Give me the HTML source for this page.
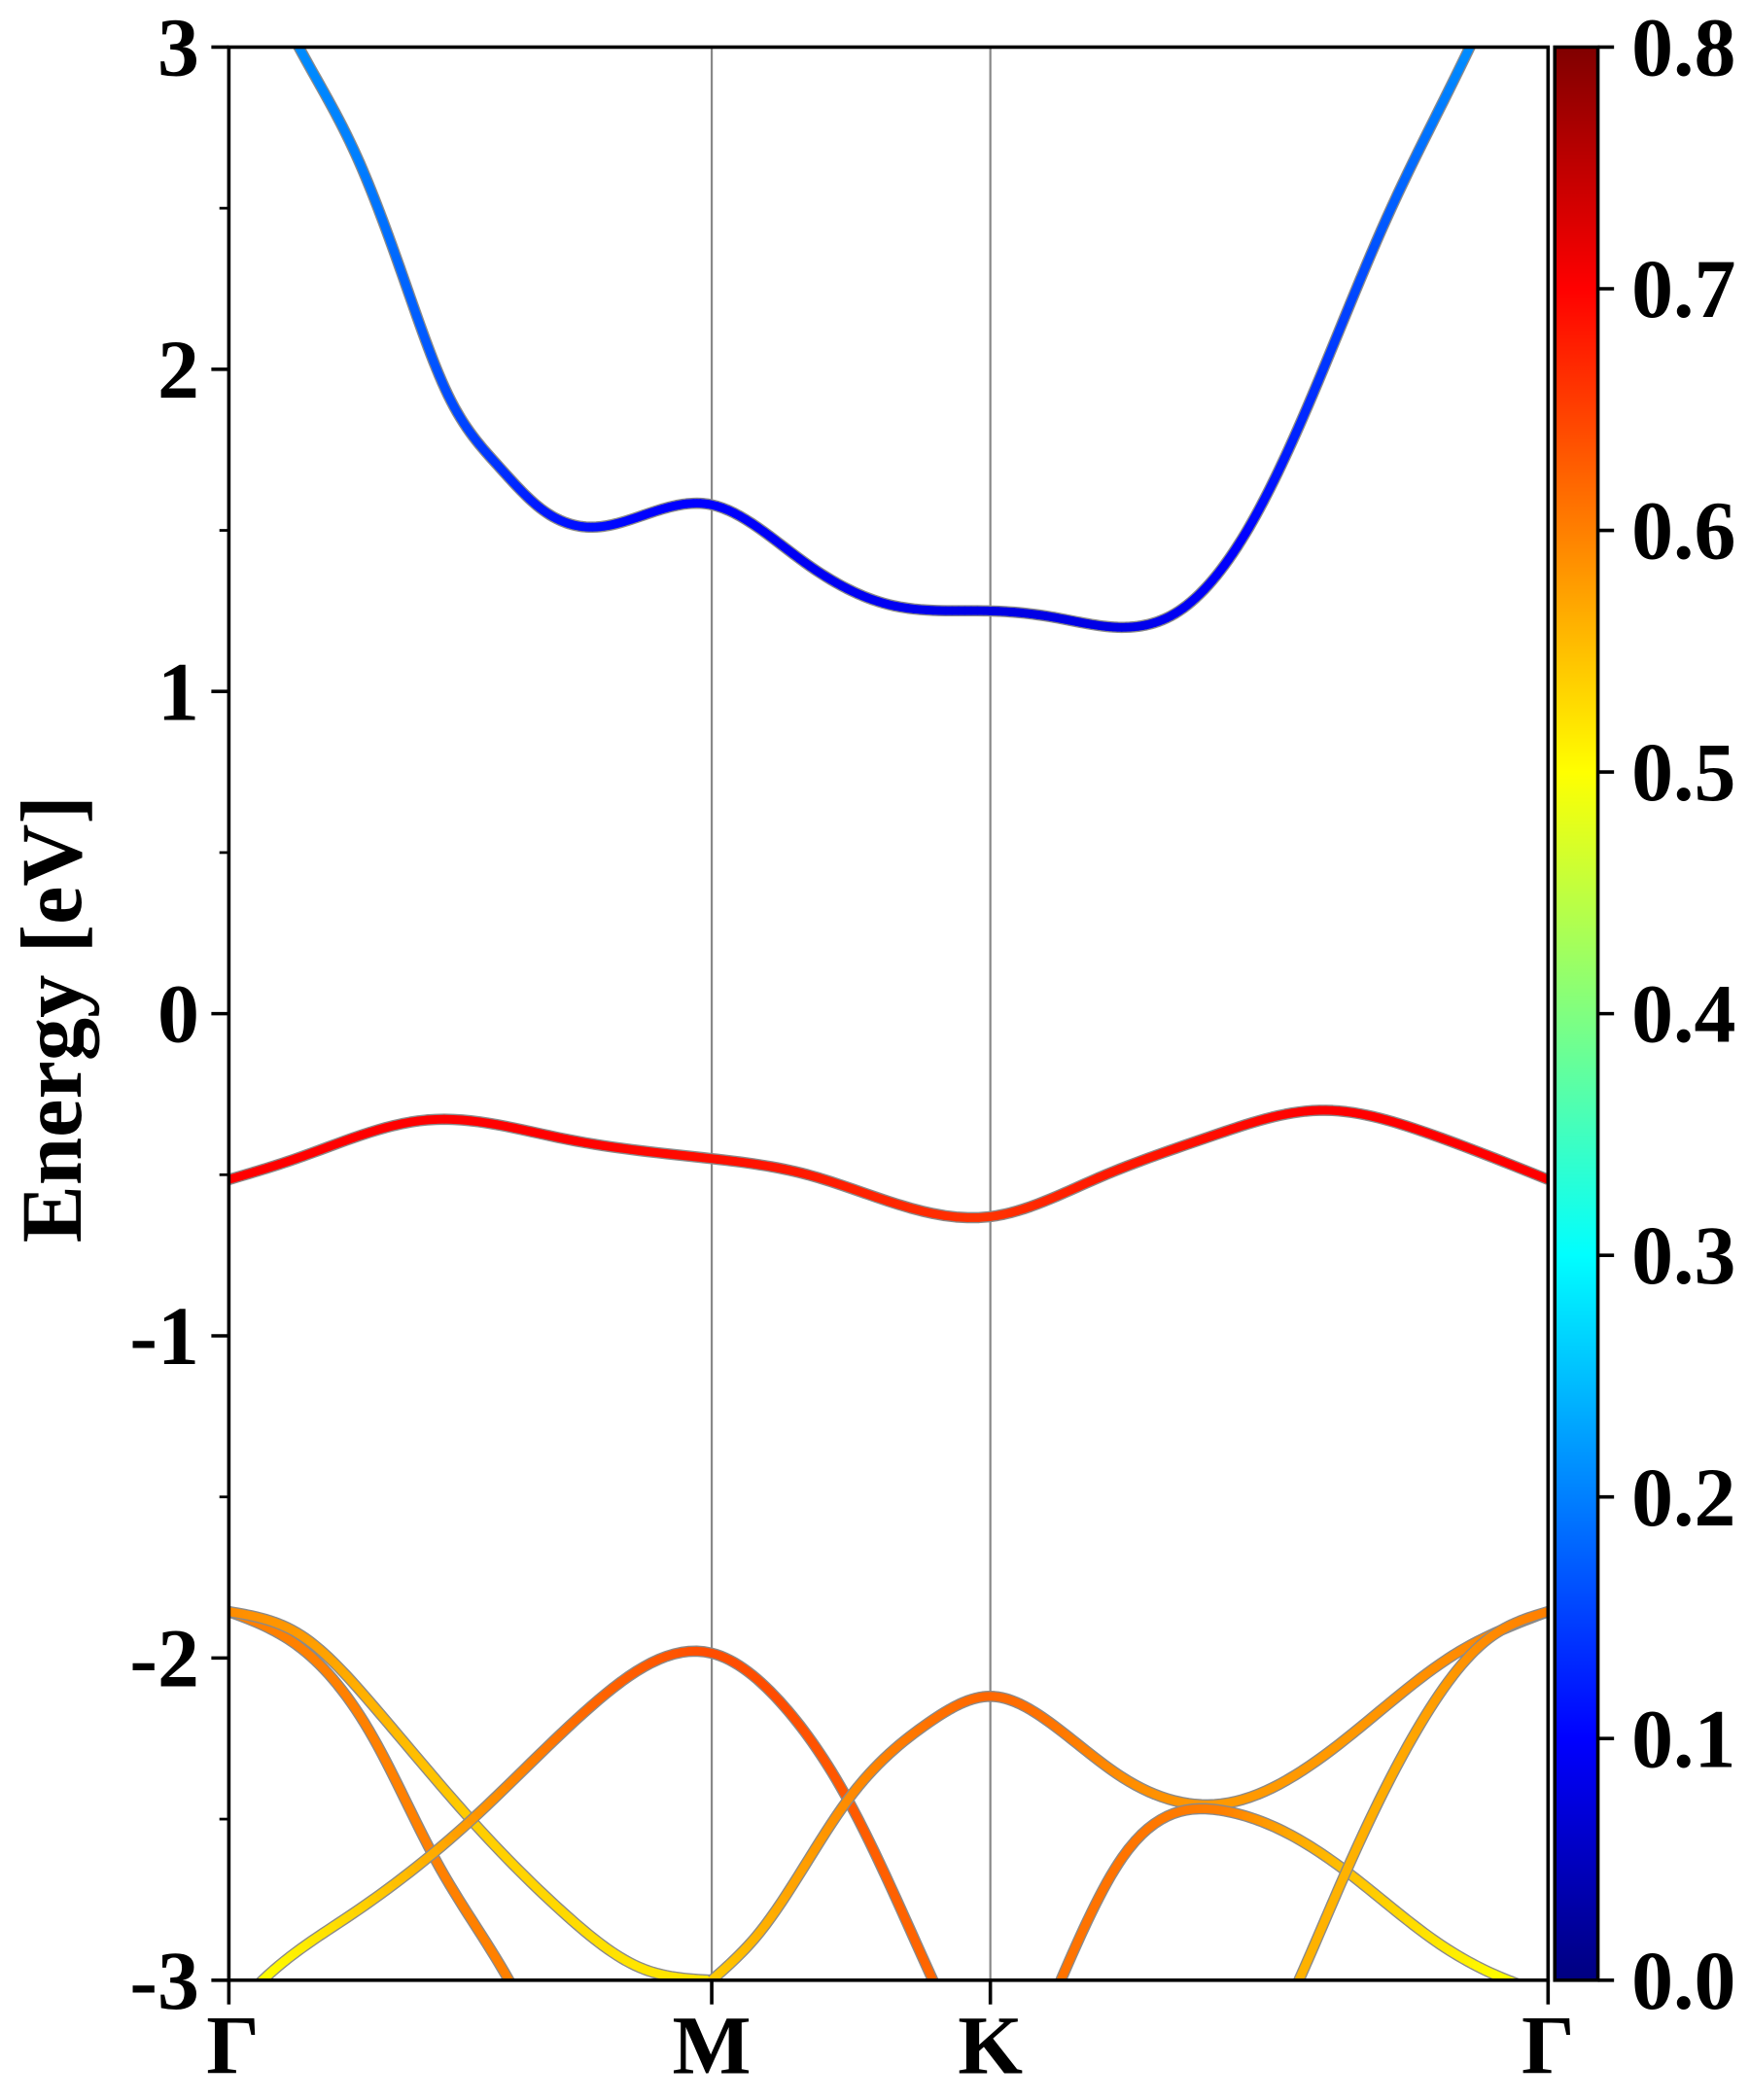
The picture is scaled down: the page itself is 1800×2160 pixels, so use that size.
<!DOCTYPE html>
<html><head><meta charset="utf-8"><style>
html,body{margin:0;padding:0;background:#fff;}
svg{display:block;font-family:"Liberation Serif",serif;font-weight:bold;}
</style></head><body>
<svg id="chart" width="1800" height="2160" viewBox="0 0 1300 1560" preserveAspectRatio="none" xmlns="http://www.w3.org/2000/svg">
<defs>
<clipPath id="clip"><rect x="170" y="35" width="980" height="1436"/></clipPath>
<linearGradient id="jet" x1="0" y1="1" x2="0" y2="0"></linearGradient>
</defs>
<g id="gridlines"></g>
<g id="bands" clip-path="url(#clip)"></g>
<g id="axes"></g>
<text x="0" y="0" font-size="64" text-anchor="middle" transform="translate(60,757) rotate(-90)">Energy [eV]</text>
</svg>
<script>
const kTickPos = [0, 1.0, 1.577, 2.732];
const kTickLabels = ["Γ", "M", "K", "Γ"];
const yTicks = [-3, -2, -1, 0, 1, 2, 3];
const yMinor = [-2.5, -1.5, -0.5, 0.5, 1.5, 2.5];
const cbTicks = [0.0, 0.1, 0.2, 0.3, 0.4, 0.5, 0.6, 0.7, 0.8];

const condK = [0, 0.145, 0.265, 0.360, 0.454, 0.558, 0.644, 0.753, 0.884, 0.998, 1.193, 1.366, 1.577, 1.709, 1.832, 1.968, 2.105, 2.224, 2.398, 2.570, 2.732];
const condE = [3.45, 3.0, 2.66, 2.29, 1.92, 1.70, 1.57, 1.51, 1.56, 1.58, 1.40, 1.27, 1.25, 1.23, 1.20, 1.25, 1.49, 1.85, 2.47, 3.0, 3.55];
const condW = [0.23, 0.21, 0.20, 0.18, 0.16, 0.14, 0.12, 0.11, 0.10, 0.10, 0.09, 0.09, 0.08, 0.08, 0.08, 0.09, 0.10, 0.13, 0.17, 0.21, 0.23];

const vbK = [0, 0.139, 0.41, 0.7, 1.0, 1.199, 1.577, 1.8, 2.035, 2.258, 2.481, 2.732];
const vbE = [-0.515, -0.45, -0.33, -0.39, -0.45, -0.50, -0.63, -0.51, -0.38, -0.30, -0.37, -0.515];
const vbW = [0.70, 0.70, 0.70, 0.70, 0.69, 0.68, 0.66, 0.68, 0.69, 0.70, 0.70, 0.70];

const aK = [0, 0.15, 0.3, 0.429, 0.58, 0.65];
const aE = [-1.856, -1.97, -2.25, -2.629, -3.0, -3.2];
const aW = [0.60, 0.60, 0.60, 0.60, 0.60, 0.60];

const bK = [0, 0.15, 0.3, 0.502, 0.7, 0.85, 1.0];
const bE = [-1.856, -1.93, -2.15, -2.503, -2.8, -2.96, -3.0];
const bW = [0.59, 0.58, 0.56, 0.54, 0.53, 0.52, 0.52];

const cK = [-0.05, 0.07, 0.25, 0.502, 0.75, 1.0, 1.15, 1.282, 1.458, 1.52];
const cE = [-3.2, -3.0, -2.8, -2.503, -2.15, -1.985, -2.15, -2.44, -3.0, -3.2];
const cW = [0.50, 0.50, 0.53, 0.58, 0.62, 0.64, 0.64, 0.63, 0.62, 0.62];

const dK = [1.0, 1.1, 1.282, 1.45, 1.577, 1.7, 1.85, 2.069, 2.314, 2.537, 2.732];
const dE = [-3.0, -2.85, -2.44, -2.2, -2.119, -2.2, -2.37, -2.45, -2.25, -1.99, -1.856];
const dW = [0.54, 0.56, 0.59, 0.61, 0.62, 0.61, 0.59, 0.58, 0.58, 0.59, 0.60];

const eK = [1.68, 1.723, 1.85, 2.063, 2.2, 2.314, 2.5, 2.649, 2.75];
const eE = [-3.15, -3.0, -2.62, -2.475, -2.55, -2.662, -2.88, -3.0, -3.05];
const eW = [0.61, 0.61, 0.61, 0.60, 0.57, 0.55, 0.52, 0.50, 0.50];

const fK = [2.17, 2.216, 2.314, 2.45, 2.6, 2.732];
const fE = [-3.15, -3.0, -2.662, -2.25, -1.95, -1.856];
const fW = [0.56, 0.56, 0.56, 0.57, 0.59, 0.60];

const bandsData = [
  ["conduction-band", condK, condE, condW],
  ["valence-band-top", vbK, vbE, vbW],
  ["band-a", aK, aE, aW],
  ["band-b", bK, bE, bW],
  ["band-c", cK, cE, cW],
  ["band-d", dK, dE, dW],
  ["band-e", eK, eE, eW],
  ["band-f", fK, fE, fW]
];

const X0 = 170, X1 = 1150, Y0 = 35, Y1 = 1471;
const kMax = 2.732, eMin = -3, eMax = 3, wMax = 0.8;
const sx = k => X0 + (k / kMax) * (X1 - X0);
const sy = e => Y1 - (e - eMin) / (eMax - eMin) * (Y1 - Y0);
const cbY = w => Y1 - (w / wMax) * (Y1 - Y0);
const NS = "http://www.w3.org/2000/svg";
function clamp(v){return Math.max(0, Math.min(1, v));}
function jet(w){
  const t = clamp(w / wMax);
  const r = clamp(1.5 - Math.abs(4*t - 3)), g = clamp(1.5 - Math.abs(4*t - 2)), b = clamp(1.5 - Math.abs(4*t - 1));
  return `rgb(${Math.round(r*255)},${Math.round(g*255)},${Math.round(b*255)})`;
}
function mk(tag, attrs, parent){
  const el = document.createElementNS(NS, tag);
  for (const a in attrs) el.setAttribute(a, attrs[a]);
  parent.appendChild(el);
  return el;
}
const gGrid = document.getElementById('gridlines');
const gBands = document.getElementById('bands');
const gAxes = document.getElementById('axes');

const grad = document.getElementById('jet');
for (let i = 0; i <= 40; i++) {
  mk('stop', {offset: (i/40), 'stop-color': jet(i/40*wMax)}, grad);
}

[kTickPos[1], kTickPos[2]].forEach((k, i) => {
  const l = mk('line', {x1: sx(k), x2: sx(k), y1: Y0, y2: Y1, stroke: '#888', 'stroke-width': 1.6}, gGrid);
  
  
});

// natural cubic spline E(k)
function spline(K, E){
  const n = K.length;
  const h = [], al = [], l = [1], mu = [0], z = [0], c = new Array(n).fill(0), b = [], d = [];
  for (let i = 0; i < n-1; i++) h.push(K[i+1]-K[i]);
  for (let i = 1; i < n-1; i++) al[i] = 3/h[i]*(E[i+1]-E[i]) - 3/h[i-1]*(E[i]-E[i-1]);
  for (let i = 1; i < n-1; i++) {
    l[i] = 2*(K[i+1]-K[i-1]) - h[i-1]*mu[i-1];
    mu[i] = h[i]/l[i];
    z[i] = (al[i] - h[i-1]*z[i-1])/l[i];
  }
  for (let j = n-2; j >= 0; j--) {
    c[j] = (j < n-1 && j > 0) ? z[j] - mu[j]*c[j+1] : (j === 0 ? 0 : c[j]);
    b[j] = (E[j+1]-E[j])/h[j] - h[j]*(c[j+1] + 2*c[j])/3;
    d[j] = (c[j+1]-c[j])/(3*h[j]);
  }
  return function(k){
    let i = 0;
    while (i < n-2 && k > K[i+1]) i++;
    const dx = k - K[i];
    return E[i] + b[i]*dx + c[i]*dx*dx + d[i]*dx*dx*dx;
  };
}
function sample(K, E, W){
  const f = spline(K, E);
  const pts = [];
  const n = K.length;
  for (let i = 0; i < n - 1; i++) {
    for (let s = 0; s < 16; s++) {
      const t = s / 16;
      const k = K[i] + (K[i+1]-K[i]) * t;
      pts.push([sx(k), sy(f(k)), W[i] + (W[i+1]-W[i]) * t]);
    }
  }
  pts.push([sx(K[n-1]), sy(E[n-1]), W[n-1]]);
  return pts;
}
bandsData.forEach(([name, K, E, W]) => {
  const g = mk('g', {}, gBands);
  
  
  const pts = sample(K, E, W);
  const d = pts.map((p, i) => (i ? 'L' : 'M') + p[0].toFixed(2) + ' ' + p[1].toFixed(2)).join(' ');
  mk('path', {d: d, fill: 'none', stroke: '#8a8a8a', 'stroke-width': 8.4, 'stroke-linejoin': 'round'}, g);
  for (let i = 0; i < pts.length - 1; i++) {
    mk('line', {x1: pts[i][0], y1: pts[i][1], x2: pts[i+1][0], y2: pts[i+1][1], stroke: jet((pts[i][2] + pts[i+1][2]) / 2), 'stroke-width': 6.4, 'stroke-linecap': 'round'}, g);
  }
});

const frame = mk('rect', {x: X0, y: Y0, width: X1 - X0, height: Y1 - Y0, fill: 'none', stroke: '#000', 'stroke-width': 2.6}, gAxes);



yTicks.forEach(v => {
  mk('line', {x1: X0 - 13, x2: X0, y1: sy(v), y2: sy(v), stroke: '#000', 'stroke-width': 2.6}, gAxes);
  const t = mk('text', {x: 148, y: sy(v) + 21, 'font-size': 62, 'text-anchor': 'end'}, gAxes);
  t.textContent = String(v);
  
  
});
yMinor.forEach(v => {
  mk('line', {x1: X0 - 7, x2: X0, y1: sy(v), y2: sy(v), stroke: '#000', 'stroke-width': 2}, gAxes);
});
kTickPos.forEach((k, i) => {
  mk('line', {x1: sx(k), x2: sx(k), y1: Y1, y2: Y1 + 18, stroke: '#000', 'stroke-width': 2.6}, gAxes);
  const t = mk('text', {x: sx(k) + (i === 0 ? 3 : 0), y: 1540, 'font-size': 62, 'text-anchor': 'middle'}, gAxes);
  t.textContent = kTickLabels[i];
  
  
});

const cb = mk('rect', {x: 1155, y: Y0, width: 32, height: Y1 - Y0, fill: 'url(#jet)', stroke: '#000', 'stroke-width': 2.6}, gAxes);


cbTicks.forEach(v => {
  mk('line', {x1: 1187, x2: 1199, y1: cbY(v), y2: cbY(v), stroke: '#000', 'stroke-width': 2.6}, gAxes);
  const t = mk('text', {x: 1212, y: cbY(v) + 21, 'font-size': 62, 'text-anchor': 'start'}, gAxes);
  t.textContent = v.toFixed(1);
  
  
});
</script>
</body></html>
